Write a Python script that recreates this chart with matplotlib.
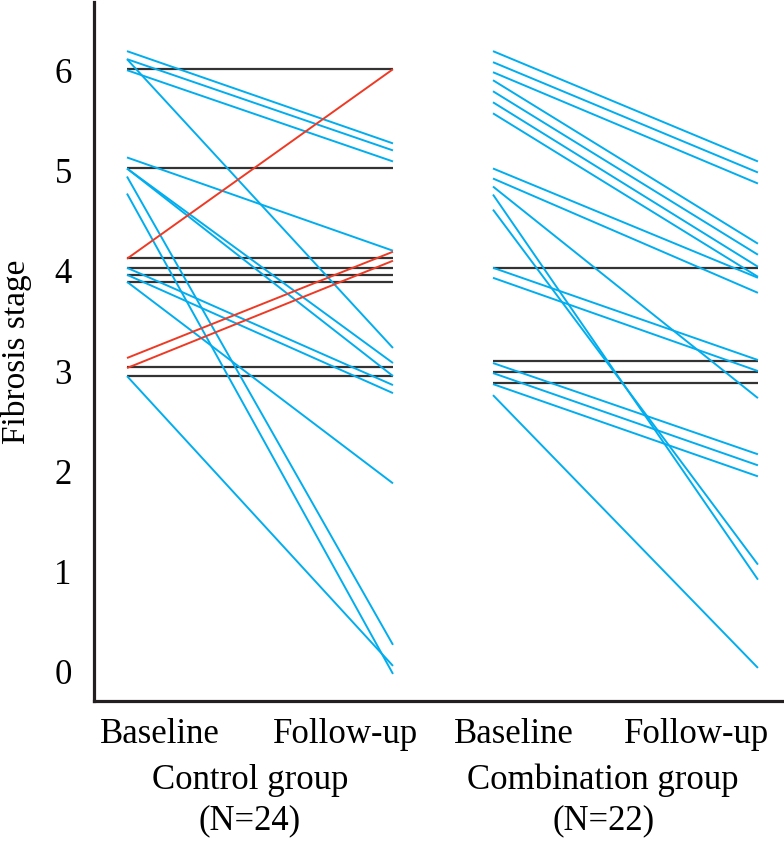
import matplotlib
matplotlib.use('Agg')
import matplotlib.pyplot as plt

rotulosTempo = ['Baseline', 'Follow-up', 'Baseline', 'Follow-up']
rotulosGrupo = ['Control group\n(N=24)', 'Combination group\n(N=22)']

# grupo controle
controleAzulInicio = [6.19, 6.11, 6.00, 6.11, 5.13, 5.02, 5.02, 4.94, 4.77, 4.03, 3.96, 3.89, 2.95]
controleAzulFim = [5.27, 5.20, 5.09, 3.23, 4.20, 3.08, 2.95, 0.27, -0.02, 2.86, 2.78, 1.88, 0.06]
controleVermelhoInicio = [4.12, 3.13, 3.03]
controleVermelhoFim = [6.01, 4.19, 4.10]
controlePreto = [6.01, 5.02, 4.13, 4.03, 3.96, 3.89, 3.04, 2.95]

# grupo combinacao
combAzulInicio = [6.19, 6.08, 5.98, 5.90, 5.79, 5.68, 5.57, 5.02, 4.92, 4.84, 4.76, 4.61,
                  4.03, 3.93, 3.08, 2.98, 2.87, 2.76]
combAzulFim = [5.09, 4.98, 4.87, 4.27, 4.16, 4.04, 3.94, 3.93, 3.78, 2.73, 0.92, 1.07,
               3.11, 3.00, 2.17, 2.06, 1.95, 0.04]
combPreto = [4.03, 3.10, 2.99, 2.88]

AZUL = '#00aeef'
VERMELHO = '#ee3a24'
PRETO = '#333333'


def desenharGrupo(ax, xs, inicio, fim, cor, largura):
    for a, b in zip(inicio, fim):
        ax.plot(xs, [a, b], color=cor, lw=largura, solid_capstyle='butt')


def main():
    plt.rcParams['font.family'] = ['Liberation Serif', 'DejaVu Serif']

    fig = plt.figure(figsize=(7.84, 8.42), dpi=100)
    ax = fig.add_axes([94 / 784, 1 - 701 / 842, 1 - 94 / 784, 699 / 842])

    xControle = [0, 1]
    xComb = [1.376, 2.372]

    desenharGrupo(ax, xControle, controlePreto, controlePreto, PRETO, 1.6)
    desenharGrupo(ax, xControle, controleAzulInicio, controleAzulFim, AZUL, 1.4)
    desenharGrupo(ax, xControle, controleVermelhoInicio, controleVermelhoFim, VERMELHO, 1.4)
    desenharGrupo(ax, xComb, combPreto, combPreto, PRETO, 1.6)
    desenharGrupo(ax, xComb, combAzulInicio, combAzulFim, AZUL, 1.4)

    ax.set_xlim(-0.124, 2.47)
    ax.set_ylim(-0.29, 6.68)

    for lado in ['top', 'right']:
        ax.spines[lado].set_visible(False)
    for lado in ['left', 'bottom']:
        ax.spines[lado].set_linewidth(2.3)
        ax.spines[lado].set_color('#231f20')

    ax.set_yticks(range(7))
    ax.tick_params(axis='y', length=0, pad=16, labelsize=25)
    ax.set_ylabel('Fibrosis stage', fontsize=24, labelpad=16)

    ax.set_xticks([0.122, 0.82, 1.453, 2.143])
    ax.set_xticklabels(rotulosTempo)
    ax.tick_params(axis='x', length=0, pad=12, labelsize=25)

    # nomes dos grupos embaixo
    for xg, nome in zip([0.462, 1.79], rotulosGrupo):
        ax.text(xg, -0.142, nome, transform=ax.get_xaxis_transform(), ha='center', va='center',
                fontsize=25, linespacing=1.3)

    fig.savefig('out.png', dpi=100)


if __name__ == '__main__':
    main()
